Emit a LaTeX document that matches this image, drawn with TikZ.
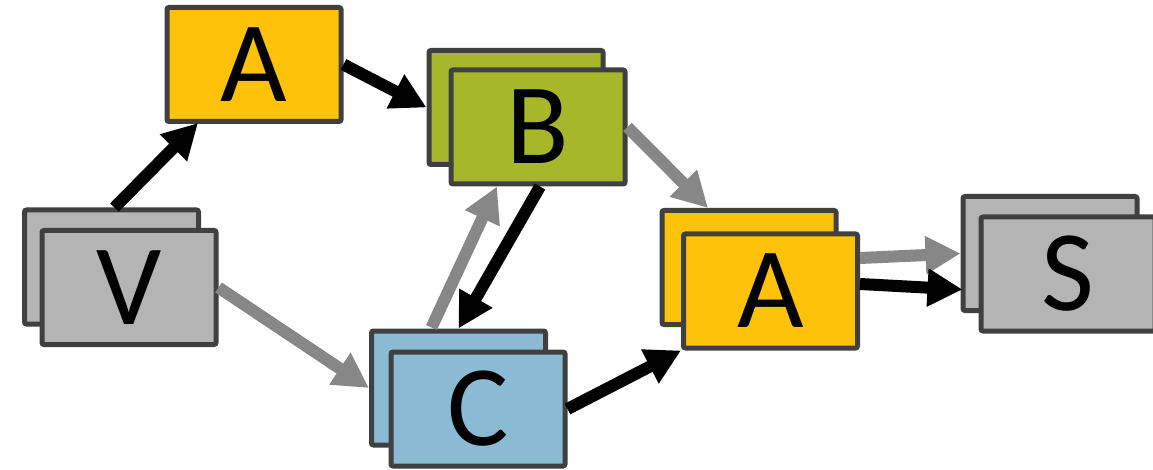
\documentclass[tikz,border=0pt]{standalone}
\usepackage{fontspec}
\setmainfont{Carlito}
\usetikzlibrary{arrows.meta,calc}

\definecolor{boxedge}{HTML}{404040}
\definecolor{fillgold}{HTML}{FFC20A}
\definecolor{fillolive}{HTML}{A6B72A}
\definecolor{fillblue}{HTML}{8BBAD4}
\definecolor{fillgray}{HTML}{B4B4B4}
\definecolor{arrowgray}{HTML}{878787}

\tikzset{
  card/.style={draw=boxedge, line width=5pt, rounded corners=2pt,
    minimum width=174pt, minimum height=114pt, inner sep=0pt,
    font=\fontsize{115}{115}\selectfont},
  darrow/.style={draw=black, line width=12pt,
    -{Triangle[length=35pt,width=36pt]}},
  garrow/.style={draw=arrowgray, line width=12pt,
    -{Triangle[length=35pt,width=36pt]}},
}

\begin{document}
\begin{tikzpicture}[x=1pt,y=-1pt]
  \useasboundingbox (0,0) rectangle (1153,470);
  \clip (0,0) rectangle (1153,470);

  % single card
  \node[card, fill=fillgold] (A1) at (254,64.5) {A};

  % stacked cards: back sheet first, front sheet on top
  \node[card, fill=fillgray] (Vb) at (111.5,267) {};
  \node[card, fill=fillgray] (Vf) at (129,287.5) {V};

  \node[card, fill=fillolive] (Bb) at (516,107.5) {};
  \node[card, fill=fillolive] (Bf) at (538,127) {B};

  \node[card, fill=fillblue] (Cb) at (458.5,388) {};
  \node[card, fill=fillblue] (Cf) at (478,409) {C};

  \node[card, fill=fillgold] (A2b) at (749,267.5) {};
  \node[card, fill=fillgold] (A2f) at (770.5,291) {A};

  \node[card, fill=fillgray] (Sb) at (1050,253.5) {};
  \node[card, fill=fillgray] (Sf) at (1068,274) {S};

  % connectors
  \draw[darrow] ($(Vb.north)+(3,0)$) -- ($(A1.south)+(-56,-1)$);
  \draw[darrow] (A1.east) -- (Bb.west);
  \draw[garrow] (Bf.east) -- ($(A2b.north)+(-41,0)$);
  \draw[darrow] ($(Bf.south)+(2,0)$) -- (Cb.north);
  \draw[garrow] ($(Cb.north)+(-27,-1)$) -- ($(Bf.south)+(-41,0)$);
  \draw[garrow] (Vf.east) -- (Cb.west);
  \draw[darrow] (Cf.east) -- (A2f.south west);
  \draw[garrow] ($(A2f.east)+(0,-33)$) -- (Sb.west);
  \draw[darrow] ($(A2f.east)+(0,-7)$) -- ($(Sb.west)+(2,36)$);
\end{tikzpicture}
\end{document}
